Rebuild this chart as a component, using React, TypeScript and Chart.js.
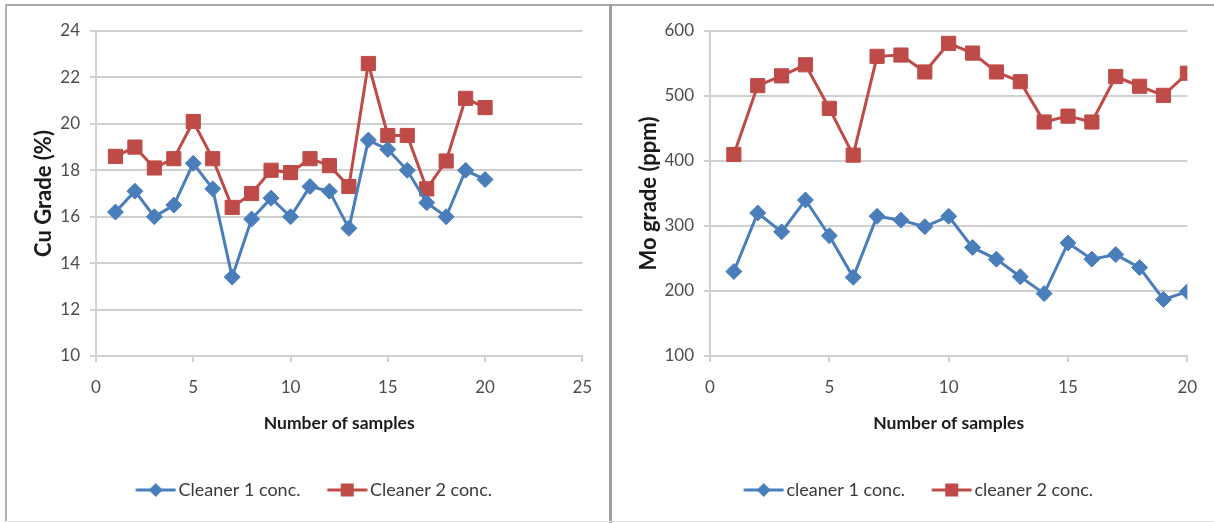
import React, { useEffect, useRef } from "react";
import { Chart, registerables } from "chart.js";

Chart.register(...registerables);

// ---- data ----
const samples = [1, 2, 3, 4, 5, 6, 7, 8, 9, 10, 11, 12, 13, 14, 15, 16, 17, 18, 19, 20];
const cuCleaner1 = [16.2, 17.1, 16.0, 16.5, 18.3, 17.2, 13.4, 15.9, 16.8, 16.0, 17.3, 17.1, 15.5, 19.3, 18.9, 18.0, 16.6, 16.0, 18.0, 17.6];
const cuCleaner2 = [18.6, 19.0, 18.1, 18.5, 20.1, 18.5, 16.4, 17.0, 18.0, 17.9, 18.5, 18.2, 17.3, 22.6, 19.5, 19.5, 17.2, 18.4, 21.1, 20.7];
const moCleaner1 = [230, 320, 291, 340, 285, 221, 315, 309, 299, 315, 267, 249, 222, 196, 274, 249, 256, 236, 187, 199];
const moCleaner2 = [410, 516, 531, 548, 481, 409, 561, 563, 537, 581, 566, 537, 522, 460, 469, 460, 530, 515, 501, 535];

const cuLegend = ["Cleaner 1 conc.", "Cleaner 2 conc."];
const moLegend = ["cleaner 1 conc.", "cleaner 2 conc."];
const cuXTicks = { min: 0, max: 25, step: 5 };
const cuYTicks = { min: 10, max: 24, step: 2 };
const moXTicks = { min: 0, max: 20, step: 5 };
const moYTicks = { min: 100, max: 600, step: 100 };

const BLUE = "#4a7ebb";
const RED = "#be4b48";
const GRID = "#d0d0d0";
const FONT = 'Lato, "Open Sans", "Liberation Sans", sans-serif';

function legendGlyph(color: string, kind: "diamond" | "square"): HTMLCanvasElement {
  const c = document.createElement("canvas");
  c.width = 64;
  c.height = 18;
  const ctx = c.getContext("2d")!;
  ctx.strokeStyle = color;
  ctx.fillStyle = color;
  ctx.lineWidth = 3;
  ctx.beginPath();
  ctx.moveTo(23.5, 9);
  ctx.lineTo(63.5, 9);
  ctx.stroke();
  const cx = 43.5;
  ctx.beginPath();
  if (kind === "diamond") {
    ctx.moveTo(cx - 7, 9);
    ctx.lineTo(cx, 2);
    ctx.lineTo(cx + 7, 9);
    ctx.lineTo(cx, 16);
    ctx.closePath();
  } else {
    ctx.rect(cx - 6.5, 2.5, 13, 13);
  }
  ctx.fill();
  return c;
}

type PanelProps = {
  c1: number[];
  c2: number[];
  labels: string[];
  xr: { min: number; max: number; step: number };
  yr: { min: number; max: number; step: number };
  yTitle: string;
  leftPad: number;
  yAxisWidth: number;
  yTitlePad: number;
  rightPad: number;
};

function Panel(props: PanelProps) {
  const ref = useRef<HTMLCanvasElement | null>(null);
  useEffect(() => {
    if (!ref.current) return;
    const glyphs = [legendGlyph(BLUE, "diamond"), legendGlyph(RED, "square")];
    const chart = new Chart(ref.current, {
      type: "line",
      data: {
        datasets: [
          {
            label: props.labels[0],
            data: samples.map((s, i) => ({ x: s, y: props.c1[i] })),
            borderColor: BLUE,
            backgroundColor: BLUE,
            borderWidth: 3,
            pointStyle: "rectRot",
            pointRadius: 8,
            pointBorderWidth: 1,
            pointBackgroundColor: BLUE,
            pointBorderColor: BLUE,
            tension: 0,
          },
          {
            label: props.labels[1],
            data: samples.map((s, i) => ({ x: s, y: props.c2[i] })),
            borderColor: RED,
            backgroundColor: RED,
            borderWidth: 3,
            pointStyle: "rect",
            pointRadius: 10,
            pointBorderWidth: 1,
            pointBackgroundColor: RED,
            pointBorderColor: RED,
            tension: 0,
          },
        ],
      },
      options: {
        animation: false,
        responsive: false,
        maintainAspectRatio: false,
        layout: { padding: { top: 24, right: props.rightPad, bottom: 10, left: props.leftPad } },
        plugins: {
          tooltip: { enabled: false },
          legend: {
            position: "bottom",
            labels: {
              usePointStyle: true,
              pointStyleWidth: 50.5,
              padding: 10,
              color: "#3a3a3a",
              font: { family: FONT, size: 18 },
              generateLabels: (ch: any) => {
                const items = (Chart.defaults.plugins.legend.labels as any).generateLabels(ch);
                return items.map((it: any, i: number) => ({ ...it, pointStyle: glyphs[i] }));
              },
            },
          },
        },
        scales: {
          x: {
            type: "linear",
            min: props.xr.min,
            max: props.xr.max,
            afterFit: (s: any) => {
              s.height = 115;
            },
            ticks: {
              stepSize: props.xr.step,
              padding: 15.8,
              color: "#4d4d4d",
              font: { family: FONT, size: 17 },
            },
            grid: { drawOnChartArea: false, drawTicks: true, tickLength: 6, color: GRID, lineWidth: 2 },
            border: { display: true, color: GRID, width: 2 },
            title: {
              display: true,
              text: "Number of samples",
              color: "#1a1a1a",
              font: { family: FONT, size: 17.5, weight: "bold" },
              padding: { top: 0, bottom: 37.5 },
            },
          },
          y: {
            type: "linear",
            min: props.yr.min,
            max: props.yr.max,
            afterFit: (s: any) => {
              s.width = props.yAxisWidth;
            },
            ticks: {
              stepSize: props.yr.step,
              padding: 10,
              color: "#4d4d4d",
              font: { family: FONT, size: 17 },
            },
            grid: { color: GRID, lineWidth: 2, tickLength: 6 },
            border: { display: true, color: GRID, width: 2 },
            title: {
              display: true,
              text: props.yTitle,
              color: "#1a1a1a",
              font: { family: FONT, size: 22, weight: "bold" },
              padding: { top: props.yTitlePad, bottom: 0 },
            },
          },
        },
      } as any,
    });
    return () => chart.destroy();
  }, []);
  return <canvas ref={ref} width={600} height={512} style={{ width: 600, height: 512, display: "block" }} />;
}

export default function App() {
  return (
    <div style={{ position: "fixed", left: 0, top: 0, width: 1214, height: 523, background: "#fff", overflow: "hidden" }}>
      <div style={{ position: "absolute", left: 5, top: 4, width: 1209, height: 2, background: "#a8a8a8" }} />
      <div style={{ position: "absolute", left: 5, top: 4, width: 2, height: 518, background: "#b0b0b0" }} />
      <div style={{ position: "absolute", left: 609, top: 4, width: 3, height: 519, background: "#a0a0a0" }} />
      <div style={{ position: "absolute", left: 5, top: 521, width: 1209, height: 1, background: "#e4e4e4" }} />
      <div style={{ position: "absolute", left: 8, top: 7 }}>
        <Panel c1={cuCleaner1} c2={cuCleaner2} labels={cuLegend} xr={cuXTicks} yr={cuYTicks} yTitle="Cu Grade (%)" leftPad={17} yAxisWidth={71} yTitlePad={5.4} rightPad={22} />
      </div>
      <div style={{ position: "absolute", left: 613, top: 7 }}>
        <Panel c1={moCleaner1} c2={moCleaner2} labels={moLegend} xr={moXTicks} yr={moYTicks} yTitle="Mo grade (ppm)" leftPad={18} yAxisWidth={79} yTitlePad={4.4} rightPad={24} />
      </div>
    </div>
  );
}
